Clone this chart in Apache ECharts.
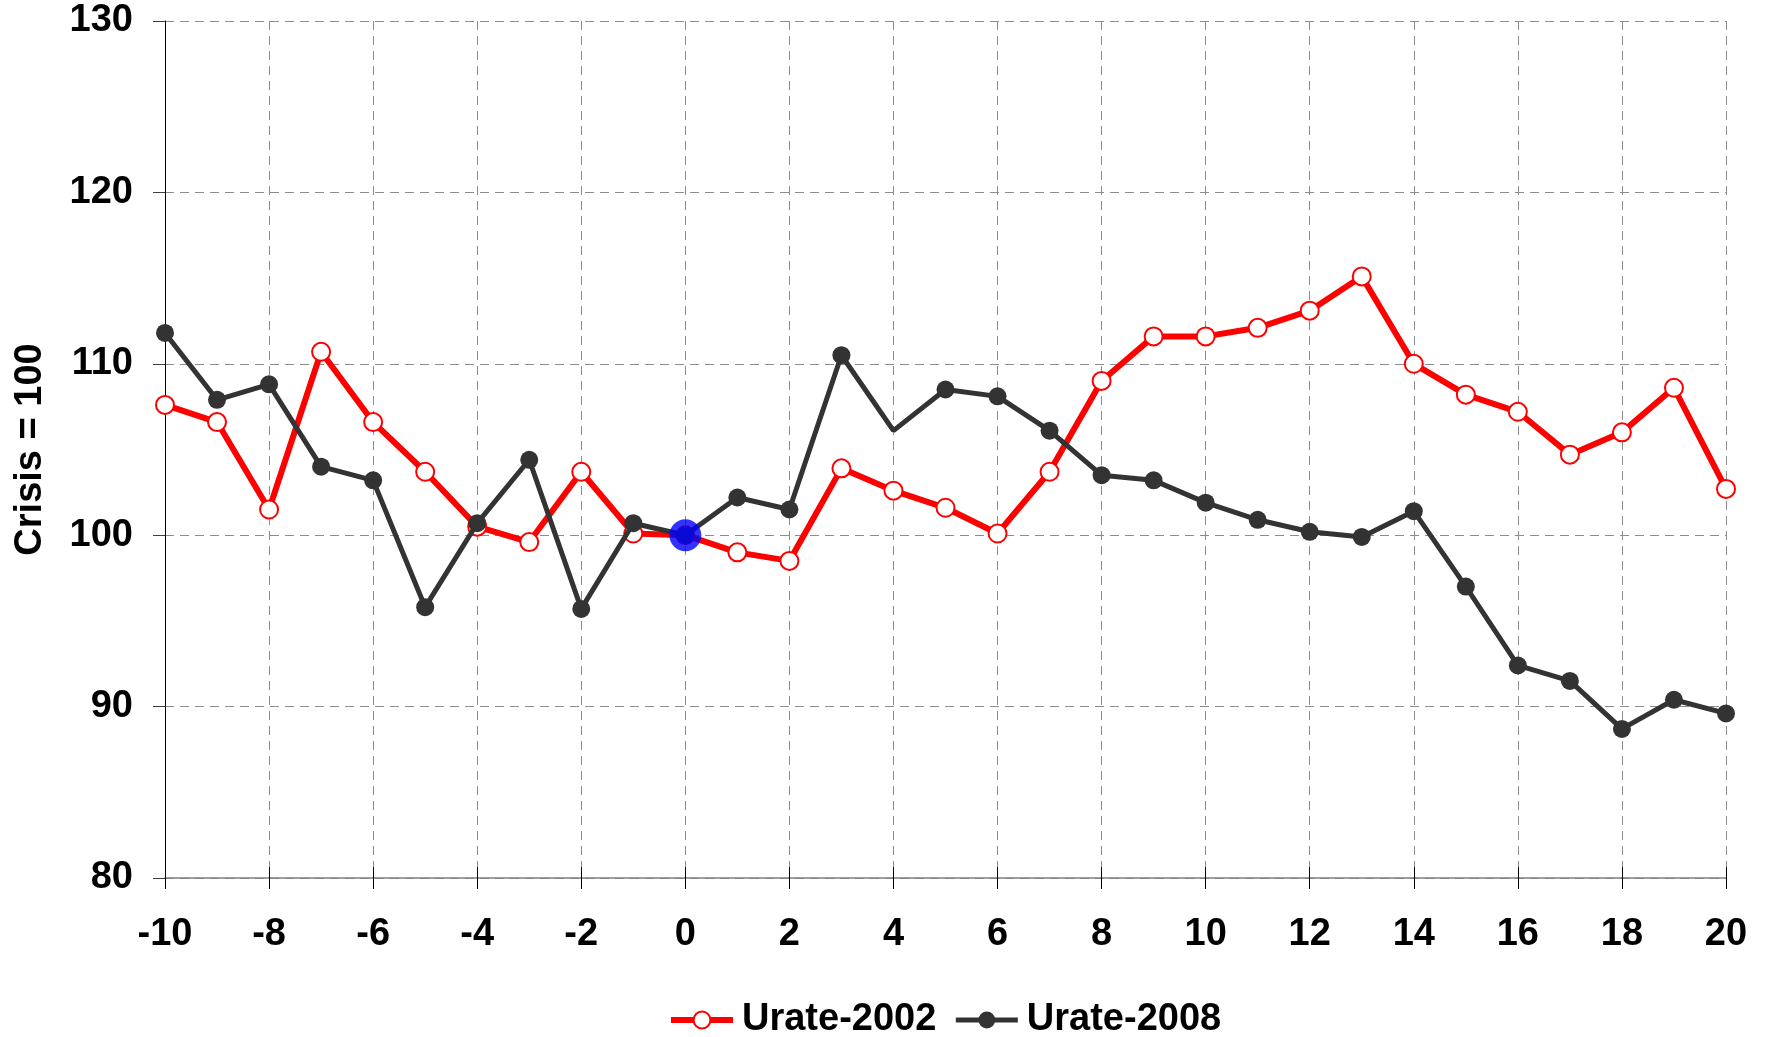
<!DOCTYPE html>
<html>
<head>
<meta charset="utf-8">
<title>Urate 2002 vs 2008</title>
<script src="https://cdn.jsdelivr.net/npm/echarts@6/dist/echarts.min.js"></script>
<style>
  html, body { margin: 0; padding: 0; background: #ffffff; }
  #chart { width: 1765px; height: 1037px; }
</style>
</head>
<body>
<div id="chart"></div>
<script>
// months relative to crisis (crisis = 0)
const months = [-10, -9, -8, -7, -6, -5, -4, -3, -2, -1, 0, 1, 2, 3, 4, 5, 6, 7, 8, 9, 10,
    11, 12, 13, 14, 15, 16, 17, 18, 19, 20];

// index, crisis = 100
const urate2002 = [107.6, 106.6, 101.5, 110.7, 106.6, 103.7, 100.5, 99.6, 103.7, 100.1, 100,
    99.0, 98.5, 103.9, 102.6, 101.6, 100.1, 103.7, 109.0, 111.6, 111.6,
    112.1, 113.1, 115.1, 110.0, 108.2, 107.2, 104.7, 106.0, 108.6, 102.7];
const urate2008 = [111.8, 107.9, 108.8, 104.0, 103.2, 95.8, 100.7, 104.4, 95.7, 100.7, 100,
    102.2, 101.5, 110.5, 106.1, 108.5, 108.1, 106.1, 103.5, 103.2, 101.9,
    100.9, 100.2, 99.9, 101.4, 97.0, 92.4, 91.5, 88.7, 90.4, 89.6];

// the 2008 series has no marker drawn at this month in the original
const hiddenMarkers2008 = [4];

const crisisMonth = 0;
const crisisValue = 100;

const seriesNames = ["Urate-2002", "Urate-2008"];

const fontBold = { fontFamily: "'Liberation Sans', Arial, sans-serif", fontWeight: "bold", color: "#000" };
const gridDash = { color: "#8c8c8c", width: 1, type: [9, 6] };

const chart = echarts.init(document.getElementById("chart"), null, { renderer: "canvas" });

const option = {
    animation: false,
    backgroundColor: "#ffffff",
    grid: { left: 165, right: 39, top: 21, bottom: 159, containLabel: false, outerBoundsMode: "none" },
    legend: {
        data: seriesNames,
        left: 663,
        top: 996,
        itemWidth: 62,
        itemHeight: 21,
        itemGap: 17,
        lineStyle: { width: "inherit" },
        textStyle: { ...fontBold, fontSize: 38, padding: [0, 0, 0, 4] },
    },
    xAxis: [
        {
            type: "value",
            min: -10,
            max: 20,
            interval: 2,
            axisLine: { onZero: false, lineStyle: { color: "#808080", width: 1.5 } },
            axisTick: { show: true, inside: false, length: 11, lineStyle: { color: "#000", width: 1 } },
            axisLabel: { ...fontBold, fontSize: 38, margin: 38 },
            splitLine: { show: true, lineStyle: gridDash },
        },
        {
            // second copy only to draw the inner half of the crossing ticks
            type: "value",
            position: "bottom",
            min: -10,
            max: 20,
            interval: 2,
            axisLine: { show: false, onZero: false },
            axisTick: { show: true, inside: true, length: 11, lineStyle: { color: "#000", width: 1 } },
            axisLabel: { show: false },
            splitLine: { show: false },
        },
    ],
    yAxis: {
        type: "value",
        min: 80,
        max: 130,
        interval: 10,
        name: "Crisis = 100",
        nameLocation: "middle",
        nameRotate: 90,
        nameGap: 115,
        nameTextStyle: { ...fontBold, fontSize: 38 },
        axisLine: { show: true, onZero: false, lineStyle: { color: "#000", width: 1 } },
        axisTick: { show: true, inside: false, length: 12, lineStyle: { color: "#404040", width: 1 } },
        axisLabel: { ...fontBold, fontSize: 38, margin: 32 },
        splitLine: { show: true, lineStyle: gridDash },
    },
    series: [
        {
            name: seriesNames[0],
            type: "line",
            data: months.map((m, i) => [m, urate2002[i]]),
            symbol: "circle",
            symbolSize: 18,
            lineStyle: { color: "#ff0000", width: 6 },
            itemStyle: { color: "#ffffff", borderColor: "#ff0000", borderWidth: 2 },
            emphasis: { disabled: true },
            z: 2,
        },
        {
            name: seriesNames[1],
            type: "line",
            data: months.map((m, i) => ({
                value: [m, urate2008[i]],
                symbolSize: hiddenMarkers2008.includes(m) ? 0 : 18,
            })),
            symbol: "circle",
            symbolSize: 18,
            lineStyle: { color: "#333333", width: 5 },
            itemStyle: { color: "#333333" },
            emphasis: { disabled: true },
            z: 3,
        },
        {
            name: "Crisis",
            type: "scatter",
            data: [[crisisMonth, crisisValue]],
            symbol: "circle",
            symbolSize: 32,
            itemStyle: { color: "#0000ff" },
            emphasis: { disabled: true },
            z: 5,
        },
    ],
};

chart.setOption(option);
</script>
</body>
</html>
